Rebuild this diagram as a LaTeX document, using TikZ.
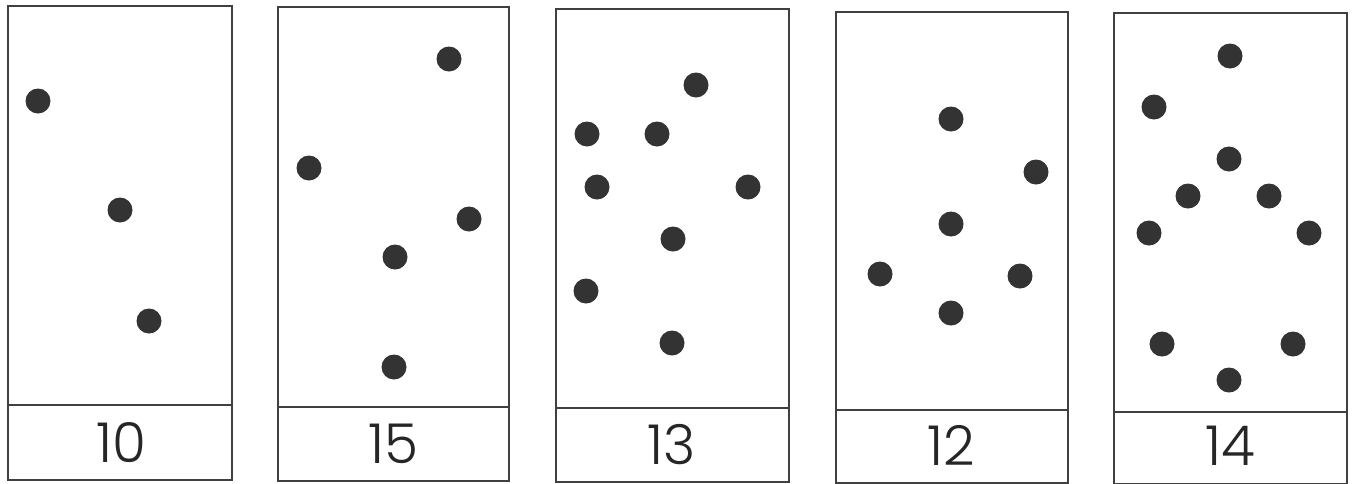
\documentclass[tikz,border=0pt]{standalone}
\usepackage{fontspec}
\IfFontExistsTF{Poppins Light}{\setmainfont{Poppins Light}}{\setmainfont{Poppins}}
\begin{document}
\begin{tikzpicture}[x=1pt,y=-1pt,
  panel/.style={draw=black!75, line width=1.6pt},
  dot/.style={circle, fill=black!80, inner sep=0pt, minimum size=25pt},
  numlabel/.style={font=\fontsize{55}{55}\selectfont, text=black!85, inner sep=0pt}]
\useasboundingbox (0,0) rectangle (1353,483);
\fill[white] (0,0) rectangle (1353,483);
% panel 1
\draw[panel] (8,6) rectangle (232,480);
\draw[panel] (8,405) -- (232,405);
\node[numlabel] (l1) at (121,443) {10};
\node[dot] (a1) at (38,101) {};
\node[dot] (a2) at (120,210) {};
\node[dot] (a3) at (149,321) {};
% panel 2
\draw[panel] (278,7) rectangle (509,481);
\draw[panel] (278,407) -- (509,407);
\node[numlabel] (l2) at (393,444) {15};
\node[dot] (b1) at (449,59) {};
\node[dot] (b2) at (309,168) {};
\node[dot] (b3) at (469,219) {};
\node[dot] (b4) at (395,257) {};
\node[dot] (b5) at (394,367) {};
% panel 3
\draw[panel] (556,9) rectangle (789,482);
\draw[panel] (556,408) -- (789,408);
\node[numlabel] (l3) at (672,445) {13};
\node[dot] (c1) at (696,85) {};
\node[dot] (c2) at (587,134) {};
\node[dot] (c3) at (657,134) {};
\node[dot] (c4) at (597,187) {};
\node[dot] (c5) at (748,187) {};
\node[dot] (c6) at (673,239) {};
\node[dot] (c7) at (586,291) {};
\node[dot] (c8) at (672,343) {};
% panel 4
\draw[panel] (836,12) rectangle (1068,483);
\draw[panel] (836,410) -- (1068,410);
\node[numlabel] (l4) at (951,445) {12};
\node[dot] (d1) at (951,119) {};
\node[dot] (d2) at (1036,172) {};
\node[dot] (d3) at (951,224) {};
\node[dot] (d4) at (880,274) {};
\node[dot] (d5) at (1020,276) {};
\node[dot] (d6) at (951,313) {};
% panel 5
\draw[panel] (1114,13) rectangle (1347,484);
\draw[panel] (1114,412) -- (1347,412);
\node[numlabel] (l5) at (1230,446) {14};
\node[dot] (e1) at (1230,56) {};
\node[dot] (e2) at (1154,107) {};
\node[dot] (e3) at (1229,159) {};
\node[dot] (e4) at (1188,196) {};
\node[dot] (e5) at (1269,196) {};
\node[dot] (e6) at (1149,233) {};
\node[dot] (e7) at (1309,233) {};
\node[dot] (e8) at (1162,344) {};
\node[dot] (e9) at (1293,344) {};
\node[dot] (e10) at (1229,380) {};
\end{tikzpicture}
\end{document}
